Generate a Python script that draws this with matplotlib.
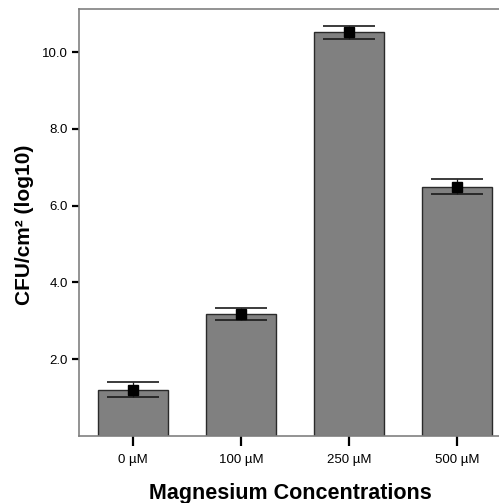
import matplotlib

matplotlib.use("Agg")
import matplotlib.pyplot as plt
import numpy as np

plt.rcParams["font.family"] = ["Liberation Sans", "DejaVu Sans"]

categories = ["0 µM", "100 µM", "250 µM", "500 µM"]
means = [1.21, 3.18, 10.51, 6.49]
errors = [0.19, 0.16, 0.16, 0.19]
yticks = [2.0, 4.0, 6.0, 8.0, 10.0]

W, H = 499, 503
fig = plt.figure(figsize=(W / 100, H / 100), dpi=100)
# axes extends past the right edge, as in the reference
ax = fig.add_axes([79 / W, (H - 436) / H, 432 / W, 427 / H])

x = np.arange(len(categories))
ax.bar(x, means, width=0.65, color="#808080", edgecolor="#2a2a2a", linewidth=1.0, zorder=2)
ax.errorbar(x, means, yerr=errors, fmt="s", color="black", markersize=7.5,
            ecolor="#1a1a1a", elinewidth=0.9, capsize=19, capthick=1.2, zorder=3)

ax.set_xlim(-0.5, 3.5)
ax.set_ylim(0, 11.12)
ax.set_xticks(x, categories, fontsize=9.5)
ax.set_yticks(yticks, [f"{v:.1f}" for v in yticks], fontsize=9.5)
ax.tick_params(axis="x", length=7, width=1.6, color="black", pad=6)
ax.tick_params(axis="y", length=5, width=1.6, color="black", pad=3)
for s in ax.spines.values():
    s.set_color("#808080")
    s.set_linewidth(1.2)

ax.set_xlabel("Magnesium Concentrations", fontsize=15.5, fontweight="bold")
ax.set_ylabel("CFU/cm² (log10)", fontsize=15, fontweight="bold")
ax.xaxis.set_label_coords(0.49, -0.11)
ax.yaxis.set_label_coords(-0.104, 0.495)

fig.savefig("out.png", dpi=100)
